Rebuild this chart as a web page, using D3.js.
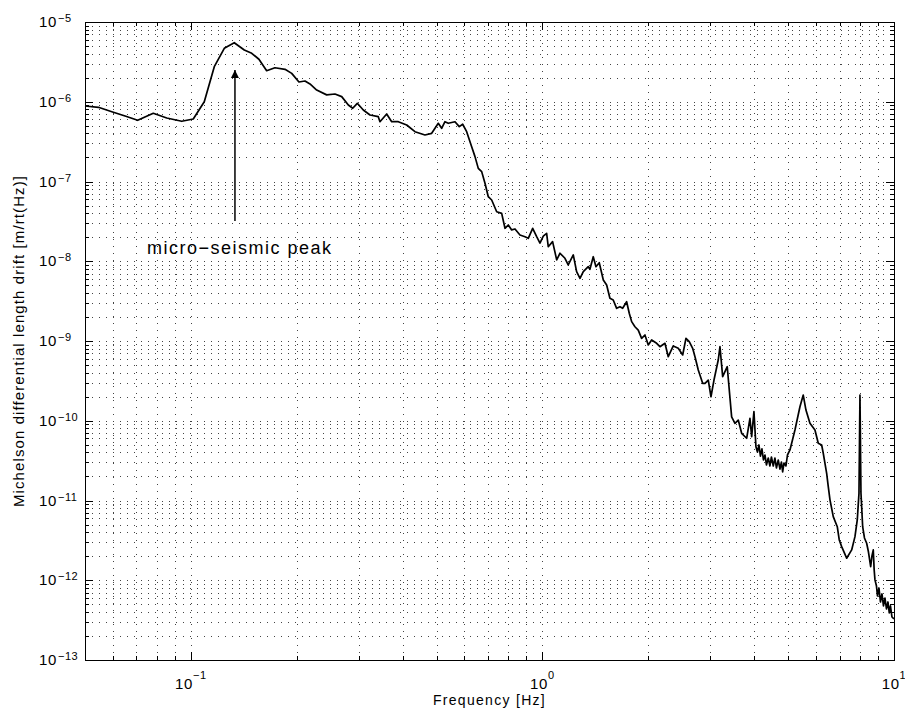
<!DOCTYPE html>
<html>
<head>
<meta charset="utf-8">
<title>Michelson drift</title>
<script src="https://d3js.org/d3.v7.min.js"></script>
<style>
  body{margin:0;background:#fff;}
  text{font-family:"Liberation Sans",Arial,Helvetica,sans-serif;fill:#000;}
  .grid line{stroke:#444;stroke-width:1;stroke-dasharray:1,6;shape-rendering:crispEdges;}
  .tk line{stroke:#000;stroke-width:1;shape-rendering:crispEdges;}
  .tk path{display:none;}
</style>
</head>
<body>
<script>
// spectrum (Hz, m/rt(Hz))
var freqHz=[0.0500,0.0546,0.0596,0.0650,0.0706,0.0782,0.0854,0.0942,0.1016,0.1092,
  0.1166,0.1245,0.1329,0.1419,0.1490,0.1562,0.1643,0.1735,0.1853,0.1936,
  0.2030,0.2112,0.2182,0.2280,0.2434,0.2570,0.2686,0.2805,0.2887,0.2975,
  0.3094,0.3233,0.3413,0.3451,0.3606,0.3726,0.3891,0.4111,0.4340,0.4634,
  0.4842,0.4948,0.5056,0.5169,0.5282,0.5398,0.5640,0.5801,0.5932,0.6089,
  0.6292,0.6430,0.6570,0.6718,0.6865,0.7015,0.7173,0.7412,0.7658,0.7826,
  0.7996,0.8176,0.8355,0.8633,0.8920,0.9115,0.9382,0.9630,0.9841,1.0056,
  1.028,1.039,1.069,1.098,1.122,1.159,1.184,1.224,1.251,1.279,
  1.307,1.350,1.365,1.395,1.420,1.451,1.490,1.523,1.556,1.590,
  1.626,1.662,1.691,1.736,1.766,1.794,1.833,1.873,1.915,1.957,
  2.000,2.045,2.113,2.159,2.231,2.280,2.356,2.434,2.506,2.560,
  2.616,2.675,2.716,2.775,2.856,2.900,2.963,3.016,3.076,3.163,
  3.199,3.256,3.355,3.453,3.529,3.606,3.687,3.810,3.893,3.937,
  3.996,4.049,4.089,4.129,4.170,4.211,4.253,4.295,4.337,4.389,
  4.437,4.481,4.535,4.585,4.630,4.686,4.738,4.785,4.823,4.864,
  4.928,4.977,5.059,5.143,5.227,5.401,5.519,5.618,5.767,5.959,
  6.089,6.227,6.292,6.434,6.502,6.575,6.718,6.897,6.987,7.098,
  7.334,7.579,7.744,7.862,7.950,8.002,8.055,8.145,8.241,8.361,
  8.460,8.583,8.656,8.731,8.782,8.828,8.915,8.974,9.062,9.152,
  9.243,9.334,9.426,9.519,9.613,9.695,9.770,9.867,10.0];
var amplitude=[8.85e-7,8.52e-7,7.50e-7,6.63e-7,5.85e-7,7.17e-7,6.26e-7,5.69e-7,6.08e-7,1.00e-6,
  2.75e-6,4.68e-6,5.50e-6,4.46e-6,4.05e-6,3.41e-6,2.45e-6,2.67e-6,2.55e-6,2.27e-6,
  1.77e-6,1.82e-6,1.67e-6,1.40e-6,1.22e-6,1.25e-6,1.16e-6,9.11e-7,8.28e-7,9.56e-7,
  7.88e-7,6.82e-7,6.50e-7,5.62e-7,7.02e-7,5.62e-7,5.62e-7,5.11e-7,4.21e-7,3.83e-7,
  4.02e-7,4.65e-7,5.37e-7,4.65e-7,5.62e-7,5.37e-7,5.62e-7,4.87e-7,5.22e-7,4.21e-7,
  2.73e-7,2.05e-7,1.46e-7,1.33e-7,9.49e-8,6.45e-8,5.86e-8,4.18e-8,3.99e-8,2.59e-8,
  2.85e-8,2.47e-8,2.54e-8,2.13e-8,2.03e-8,1.94e-8,2.59e-8,2.03e-8,1.69e-8,2.07e-8,
  2.24e-8,1.52e-8,1.76e-8,1.04e-8,1.26e-8,1.09e-8,8.98e-9,1.20e-8,7.40e-9,6.11e-9,
  7.40e-9,8.55e-9,7.93e-9,1.14e-8,8.55e-9,9.59e-9,5.82e-9,5.04e-9,3.43e-9,3.27e-9,
  2.57e-9,2.69e-9,2.57e-9,3.11e-9,2.23e-9,1.75e-9,1.51e-9,1.37e-9,1.08e-9,1.19e-9,
  8.91e-10,1.03e-9,9.36e-10,8.48e-10,9.36e-10,6.36e-10,8.66e-10,8.10e-10,6.68e-10,1.08e-9,
  9.80e-10,8.10e-10,6.36e-10,4.33e-10,2.95e-10,2.95e-10,3.24e-10,2.00e-10,3.24e-10,5.78e-10,
  8.48e-10,3.57e-10,4.76e-10,1.12e-10,9.29e-11,1.02e-10,6.96e-11,6.03e-11,1.07e-10,6.31e-11,
  1.30e-10,4.73e-11,4.06e-11,4.97e-11,3.61e-11,4.43e-11,3.22e-11,3.72e-11,2.79e-11,3.41e-11,
  2.71e-11,3.51e-11,2.71e-11,3.41e-11,2.56e-11,3.22e-11,2.48e-11,3.04e-11,2.28e-11,2.95e-11,
  2.71e-11,3.72e-11,4.30e-11,5.74e-11,7.66e-11,1.50e-10,2.10e-10,1.36e-10,9.29e-11,7.66e-11,
  5.22e-11,4.97e-11,3.91e-11,2.19e-11,1.49e-11,1.02e-11,6.27e-12,4.69e-12,3.20e-12,2.64e-12,
  1.89e-12,2.40e-12,3.52e-12,5.70e-12,1.23e-11,2.10e-10,1.23e-11,4.69e-12,3.39e-12,2.91e-12,
  2.26e-12,1.48e-12,2.02e-12,2.40e-12,1.35e-12,1.01e-12,8.47e-13,6.35e-13,8.00e-13,5.34e-13,
  6.73e-13,4.76e-13,5.99e-13,4.36e-13,5.34e-13,3.89e-13,4.76e-13,3.46e-13,3.27e-13];

var xTickExps=[-1,0,1];
var yTickExps=[-13,-12,-11,-10,-9,-8,-7,-6,-5];
var minorSteps=[2,3,4,5,6,7,8,9];
var xDomain=[0.05,10];
var yDomain=[1e-13,1e-5];

var peakLabel="micro\u2212seismic peak";
var arrowFreq=0.1335, arrowFrom=3.2e-8, arrowTo=2.5e-6;
var labelFreq=0.075, labelAmp=1.23e-8;

var W=905,H=715;
var m={left:85,right:11,top:22,bottom:55};
var iw=W-m.left-m.right, ih=H-m.top-m.bottom;

var svg=d3.select("body").append("svg").attr("width",W).attr("height",H);
var g=svg.append("g").attr("transform","translate("+m.left+","+m.top+")");

var x=d3.scaleLog().domain(xDomain).range([0,iw]);
var y=d3.scaleLog().domain(yDomain).range([ih,0]);

var xMajor=xTickExps.map(function(e){return Math.pow(10,e);});
var yMajor=yTickExps.map(function(e){return Math.pow(10,e);});
var xMinor=[], yMinor=[];
[-2,-1,0].forEach(function(e){minorSteps.forEach(function(s){
  var v=s*Math.pow(10,e); if(v>xDomain[0]&&v<xDomain[1]) xMinor.push(v);});});
[-14,-13,-12,-11,-10,-9,-8,-7,-6].forEach(function(e){minorSteps.forEach(function(s){
  var v=s*Math.pow(10,e); if(v>yDomain[0]&&v<yDomain[1]) yMinor.push(v);});});

// dotted grid
var grid=g.append("g").attr("class","grid");
grid.selectAll(".vx").data(xMajor.concat(xMinor).filter(function(v){return v<xDomain[1];}))
  .enter().append("line")
  .attr("x1",function(d){return Math.round(x(d))+0.5;}).attr("x2",function(d){return Math.round(x(d))+0.5;})
  .attr("y1",0).attr("y2",ih);
grid.selectAll(".hy").data(yMajor.concat(yMinor).filter(function(v){return v>yDomain[0]&&v<yDomain[1];}))
  .enter().append("line")
  .attr("y1",function(d){return Math.round(y(d))+0.5;}).attr("y2",function(d){return Math.round(y(d))+0.5;})
  .attr("x1",0).attr("x2",iw);

// inward ticks on all four sides
function ticks(axisFn,vals,len,tr){
  g.append("g").attr("class","tk").attr("transform",tr)
   .call(axisFn.tickValues(vals).tickSize(-len).tickFormat(""));
}
ticks(d3.axisBottom(x),xMajor,8,"translate(0,"+ih+")");
ticks(d3.axisBottom(x),xMinor,4,"translate(0,"+ih+")");
ticks(d3.axisTop(x),xMajor,8,"translate(0,0)");
ticks(d3.axisTop(x),xMinor,4,"translate(0,0)");
ticks(d3.axisLeft(y),yMajor,8,"translate(0,0)");
ticks(d3.axisLeft(y),yMinor,4,"translate(0,0)");
ticks(d3.axisRight(y),yMajor,8,"translate("+iw+",0)");
ticks(d3.axisRight(y),yMinor,4,"translate("+iw+",0)");

// box
g.append("rect").attr("x",0.5).attr("y",0.5).attr("width",iw).attr("height",ih)
  .attr("fill","none").attr("stroke","#000").attr("stroke-width",1);

// spectrum
var line=d3.line().x(function(d,i){return x(freqHz[i]);}).y(function(d){return y(d);});
g.append("path").datum(amplitude).attr("d",line)
  .attr("fill","none").attr("stroke","#000").attr("stroke-width",1.7).attr("stroke-linejoin","round");

// tick labels
var xl=g.append("g");
xTickExps.forEach(function(e){
  var t=xl.append("text").attr("x",x(Math.pow(10,e))).attr("y",ih+29)
    .attr("text-anchor","middle").style("font-size","15px").style("letter-spacing","0.6px");
  t.append("tspan").text("10");
  t.append("tspan").attr("dy",-10).style("font-size","11px").text(e<0?"\u2212"+(-e):String(e));
});
var yl=g.append("g");
yTickExps.forEach(function(e){
  var yy=y(Math.pow(10,e));
  yl.append("text").attr("x",-28).attr("y",yy+5).attr("text-anchor","end")
    .style("font-size","15px").style("letter-spacing","0.6px").text("10");
  yl.append("text").attr("x",-27).attr("y",yy).attr("text-anchor","start")
    .style("font-size","11px").style("letter-spacing","0.5px").text("\u2212"+(-e));
});

// axis titles
g.append("text").attr("x",iw/2).attr("y",ih+45).attr("text-anchor","middle")
  .style("font-size","14px").style("letter-spacing","1.3px").text("Frequency [Hz]");
g.append("text").attr("transform","translate("+(-61)+","+(ih/2)+") rotate(-90)")
  .attr("text-anchor","middle").style("font-size","15px").style("letter-spacing","1.1px")
  .text("Michelson differential length drift [m/rt(Hz)]");

// annotation
svg.append("defs").append("marker").attr("id","ah").attr("viewBox","0 0 10 10")
  .attr("refX",10).attr("refY",5).attr("markerWidth",8).attr("markerHeight",10)
  .attr("markerUnits","userSpaceOnUse").attr("orient","auto")
  .append("path").attr("d","M0,0L10,5L0,10Z").attr("fill","#000");
g.append("line").attr("x1",x(arrowFreq)).attr("x2",x(arrowFreq))
  .attr("y1",y(arrowFrom)).attr("y2",y(arrowTo))
  .attr("stroke","#000").attr("stroke-width",1.5).attr("marker-end","url(#ah)");
g.append("text").attr("x",x(labelFreq)).attr("y",y(labelAmp))
  .style("font-size","18px").style("letter-spacing","1.5px").text(peakLabel);
</script>
</body>
</html>
